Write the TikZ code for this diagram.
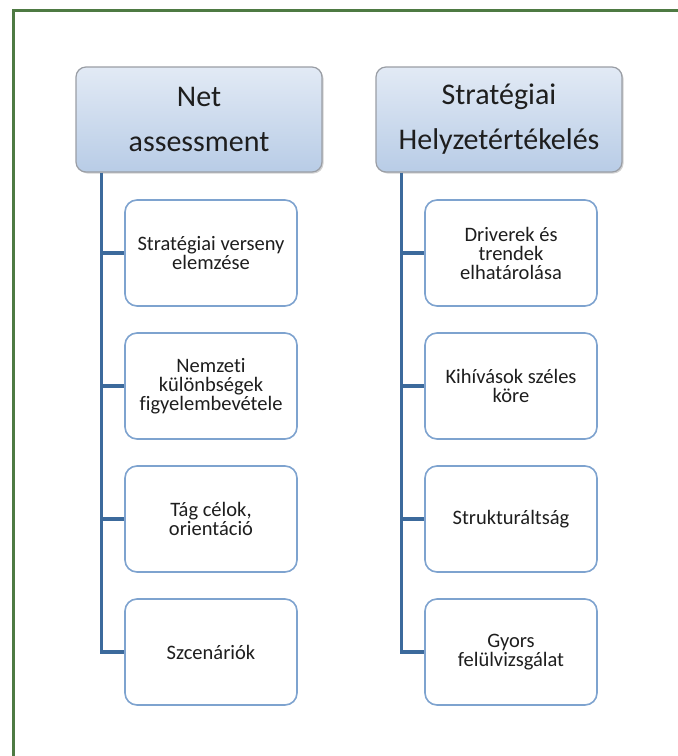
\documentclass[tikz,border=0pt]{standalone}
\usepackage{fontspec}
\setmainfont{Carlito}[Ligatures=NoCommon]
\usetikzlibrary{shadows}
\definecolor{frame}{HTML}{4E7A43}
\definecolor{conn}{HTML}{3C6A9C}
\definecolor{boxline}{HTML}{7EA3CF}
\definecolor{headtop}{HTML}{E2EAF5}
\definecolor{headbot}{HTML}{B8CCE6}
\definecolor{headline}{HTML}{9A9EA5}
\definecolor{txt}{HTML}{1E1E1E}
\tikzset{
  head/.style={draw=headline, line width=1.2pt, rounded corners=10pt,
    top color=headtop, bottom color=headbot,
    minimum width=246pt, minimum height=105pt, inner sep=0pt,
    align=center, text=txt,
    font=\fontsize{30}{45}\selectfont,
    drop shadow={shadow xshift=1.5pt, shadow yshift=-1.5pt, opacity=0.35, fill=gray}},
  child/.style={draw=boxline, line width=1.6pt, rounded corners=12pt, fill=white,
    minimum width=172pt, minimum height=106pt, inner sep=0pt,
    align=center, text=txt,
    font=\fontsize{20.5}{19}\selectfont},
  connector/.style={draw=conn, line width=3.5pt}
}
\begin{document}
\begin{tikzpicture}[x=1pt,y=-1pt]
\useasboundingbox (0,0) rectangle (678,756);
\fill[white] (0,0) rectangle (678,756);
\draw[frame, line width=3pt] (13,760) -- (13,10) -- (682,10);

% headers
\node[head] (h1) at (199,119.5) {Net\\assessment};
\node[head] (h2) at (499,119.5) {Stratégiai\\Helyzetértékelés};

% left column children
\node[child] (a1) at (211,253) {Stratégiai verseny\\elemzése};
\node[child] (a2) at (211,386) {Nemzeti\\különbségek\\figyelembevétele};
\node[child] (a3) at (211,519) {Tág célok,\\orientáció};
\node[child] (a4) at (211,652) {Szcenáriók};

% right column children
\node[child] (b1) at (511,253) {Driverek és\\trendek\\elhatárolása};
\node[child] (b2) at (511,386) {Kihívások széles\\köre};
\node[child] (b3) at (511,519) {Strukturáltság};
\node[child] (b4) at (511,652) {Gyors\\felülvizsgálat};

% spines
\coordinate (s1) at ([xshift=26pt]h1.south west);
\coordinate (s2) at ([xshift=26pt]h2.south west);

\draw[connector] (s1) |- (a4.west);
\draw[connector] (a1.west) -- (a1.west -| s1);
\draw[connector] (a2.west) -- (a2.west -| s1);
\draw[connector] (a3.west) -- (a3.west -| s1);
\draw[connector] (s2) |- (b4.west);
\draw[connector] (b1.west) -- (b1.west -| s2);
\draw[connector] (b2.west) -- (b2.west -| s2);
\draw[connector] (b3.west) -- (b3.west -| s2);
\end{tikzpicture}
\end{document}
